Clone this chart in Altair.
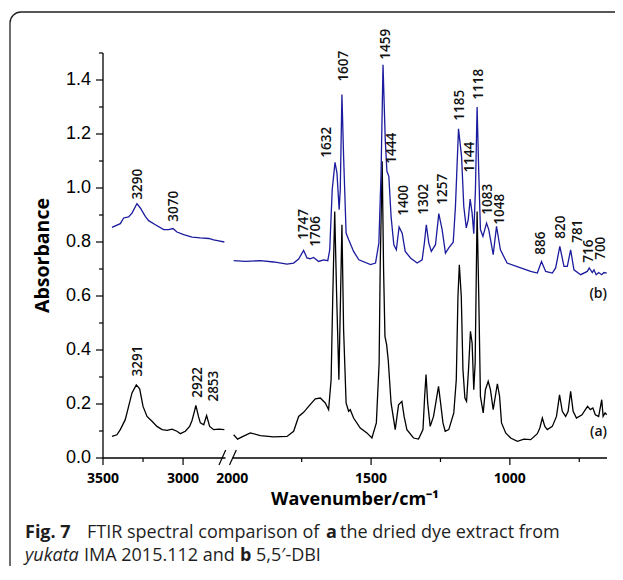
import altair as alt
import pandas as pd

# ---------------- data ----------------
# (b) 5,5'-DBI  (blue)
b_left_wn = [3444, 3392, 3371, 3340, 3319, 3288, 3267, 3236, 3215, 3173, 3121, 3090, 3063,
             3038, 2996, 2944, 2892, 2840, 2809, 2777, 2742]
b_left_abs = [0.854, 0.868, 0.889, 0.893, 0.907, 0.942, 0.926, 0.895, 0.879, 0.864, 0.846,
              0.846, 0.850, 0.837, 0.827, 0.818, 0.815, 0.813, 0.808, 0.804, 0.800]
b_right_wn = [1995, 1952, 1899, 1851, 1803, 1779, 1761, 1743, 1731, 1720, 1707, 1689, 1671,
              1656, 1649, 1640, 1630, 1623, 1615, 1611, 1605, 1599, 1590, 1581, 1563, 1544,
              1502, 1484, 1472, 1464, 1457, 1449, 1443, 1436, 1428, 1418, 1409, 1399, 1388,
              1377, 1358, 1334, 1316, 1308, 1301, 1292, 1283, 1268, 1256, 1244, 1232, 1220,
              1204, 1196, 1185, 1174, 1166, 1157, 1150, 1143, 1136, 1130, 1124, 1118, 1112,
              1106, 1097, 1084, 1076, 1060, 1048, 1034, 1010, 961, 925, 901, 886, 871, 847,
              835, 820, 805, 793, 781, 769, 745, 721, 714, 703, 697, 689, 680, 669, 661, 651]
b_right_abs = [0.731, 0.728, 0.731, 0.726, 0.718, 0.722, 0.737, 0.769, 0.741, 0.738, 0.743,
               0.728, 0.734, 0.731, 0.771, 0.994, 1.095, 1.056, 0.920, 0.994, 1.346, 1.117,
               0.833, 0.809, 0.765, 0.734, 0.716, 0.722, 0.796, 1.056, 1.456, 1.180, 1.062,
               1.043, 0.895, 0.790, 0.771, 0.856, 0.833, 0.765, 0.741, 0.722, 0.734, 0.796,
               0.864, 0.796, 0.765, 0.790, 0.905, 0.846, 0.759, 0.778, 0.799, 0.932, 1.219,
               1.117, 0.932, 0.852, 0.883, 0.959, 0.907, 0.831, 0.994, 1.300, 1.056, 0.846,
               0.821, 0.870, 0.846, 0.753, 0.858, 0.771, 0.722, 0.704, 0.691, 0.685, 0.728,
               0.691, 0.685, 0.704, 0.784, 0.710, 0.710, 0.771, 0.697, 0.679, 0.691, 0.704,
               0.687, 0.697, 0.679, 0.687, 0.679, 0.687, 0.685]

# (a) dried dye extract (black)
a_left_wn = [3444, 3413, 3392, 3361, 3340, 3319, 3292, 3271, 3250, 3225, 3194, 3163, 3131,
             3100, 3069, 3038, 3017, 2986, 2959, 2944, 2929, 2920, 2904, 2892, 2871, 2853,
             2834, 2809, 2777, 2742]
a_left_abs = [0.080, 0.086, 0.105, 0.142, 0.191, 0.241, 0.271, 0.256, 0.191, 0.154, 0.136,
              0.117, 0.105, 0.102, 0.107, 0.099, 0.090, 0.099, 0.117, 0.139, 0.173, 0.195,
              0.154, 0.130, 0.123, 0.157, 0.117, 0.105, 0.107, 0.105]
a_right_wn = [1995, 1981, 1965, 1935, 1899, 1851, 1803, 1779, 1761, 1743, 1725, 1701, 1683,
              1665, 1653, 1644, 1638, 1631, 1624, 1616, 1610, 1605, 1599, 1590, 1581, 1575,
              1563, 1539, 1515, 1497, 1481, 1471, 1467, 1460, 1455, 1450, 1444, 1438, 1428,
              1413, 1401, 1389, 1381, 1371, 1347, 1329, 1313, 1307, 1302, 1296, 1287, 1275,
              1263, 1257, 1251, 1241, 1233, 1220, 1202, 1193, 1187, 1182, 1175, 1169, 1162,
              1156, 1149, 1142, 1136, 1130, 1125, 1118, 1112, 1106, 1096, 1088, 1078, 1070,
              1060, 1045, 1037, 1030, 1015, 997, 973, 949, 925, 901, 892, 883, 874, 865, 847,
              832, 821, 811, 799, 790, 781, 772, 760, 740, 728, 720, 710, 701, 692, 680, 669,
              664, 657, 651]
a_right_abs = [0.086, 0.070, 0.078, 0.093, 0.083, 0.078, 0.080, 0.099, 0.154, 0.169, 0.191,
               0.219, 0.222, 0.204, 0.179, 0.290, 0.600, 0.913, 0.600, 0.290, 0.600, 0.864,
               0.475, 0.204, 0.173, 0.179, 0.148, 0.111, 0.093, 0.074, 0.130, 0.352, 0.720,
               1.099, 0.700, 0.450, 0.420, 0.360, 0.204, 0.105, 0.197, 0.210, 0.154, 0.105,
               0.074, 0.070, 0.105, 0.228, 0.309, 0.204, 0.117, 0.154, 0.228, 0.265, 0.216,
               0.130, 0.099, 0.105, 0.167, 0.290, 0.598, 0.716, 0.598, 0.327, 0.222, 0.210,
               0.327, 0.469, 0.426, 0.253, 0.353, 0.913, 0.598, 0.228, 0.167, 0.253, 0.284,
               0.253, 0.179, 0.275, 0.228, 0.130, 0.093, 0.074, 0.062, 0.070, 0.068, 0.090,
               0.111, 0.148, 0.117, 0.105, 0.117, 0.154, 0.234, 0.173, 0.154, 0.173, 0.247,
               0.173, 0.148, 0.160, 0.179, 0.191, 0.179, 0.185, 0.160, 0.154, 0.216, 0.154,
               0.167, 0.160]

# peak annotations: text, anchor wavenumber, anchor absorbance (bottom of rotated text)
peak_text = ["3290", "3070", "1747", "1706", "1632", "1607", "1459", "1444", "1400", "1302",
             "1257", "1185", "1144", "1118", "1083", "1048", "886", "820", "781", "716", "700",
             "3291", "2922", "2853"]
peak_wn = [3279, 3054, 1742, 1697, 1658, 1599, 1448, 1424, 1380, 1308, 1240, 1178, 1145, 1111,
           1080, 1034, 886, 817, 754, 716, 673, 3281, 2904, 2804]
peak_abs = [0.957, 0.875, 0.808, 0.782, 1.112, 1.394, 1.475, 1.090, 0.897, 0.901, 0.938, 1.249,
            1.057, 1.327, 0.901, 0.864, 0.753, 0.812, 0.797, 0.723, 0.734, 0.302, 0.223, 0.209]

series_text = ["(a)", "(b)"]
series_label_wn = [650, 650]
series_label_abs = [0.096, 0.608]

# broken x axis: left part 3500-2730, right part 2000-650
axis_start = [3500, 2000]
axis_end = [2735, 650]
x_label_vals = [3500, 3000, 2000, 1500, 1000]
x_major_ticks = [3500, 3000, 1500, 1000]
x_minor_ticks = [3250, 1750, 1250, 750]
y_major = [0.0, 0.2, 0.4, 0.6, 0.8, 1.0, 1.2, 1.4]
y_minor = [0.1, 0.3, 0.5, 0.7, 0.9, 1.1, 1.3, 1.5]
y_extent = [0.0, 1.5]

# ---------------- tables ----------------
rows = []
for name, seg, wns, vals in [("a", "aL", a_left_wn, a_left_abs), ("a", "aR", a_right_wn, a_right_abs),
                             ("b", "bL", b_left_wn, b_left_abs), ("b", "bR", b_right_wn, b_right_abs)]:
    for i, (w, v) in enumerate(zip(wns, vals)):
        rows.append({"series": name, "seg": seg, "wn": w, "abs": v, "i": i})
spec_df = pd.DataFrame(rows)
peak_df = pd.DataFrame({"label": peak_text, "wn": peak_wn, "abs": peak_abs})
ser_df = pd.DataFrame({"label": series_text, "wn": series_label_wn, "abs": series_label_abs})
axis_df = pd.DataFrame({"start": axis_start, "end": axis_end})
xlab_df = pd.DataFrame({"wn": x_label_vals})
xmaj_df = pd.DataFrame({"wn": x_major_ticks})
xmin_df = pd.DataFrame({"wn": x_minor_ticks})
ymaj_df = pd.DataFrame({"abs": y_major})
ymin_df = pd.DataFrame({"abs": y_minor})
yext_df = pd.DataFrame({"lo": [y_extent[0]], "hi": [y_extent[1]]})
one = pd.DataFrame({"k": [0]})

W, H = 504, 405
XS = alt.Scale(domain=[3500, 2730, 2000, 650], range=[0, 123.3, 129.3, W], nice=False, zero=False)
YS = alt.Scale(domain=[0, 1.5], nice=False, zero=False)


def X(field):
    return alt.X(field, scale=XS, axis=None)


def Y(field):
    return alt.Y(field, scale=YS, axis=None)


lines = alt.Chart(spec_df).mark_line(strokeWidth=1.3).encode(
    x=X("wn:Q"), y=Y("abs:Q"),
    color=alt.Color("series:N", scale=alt.Scale(domain=["a", "b"], range=["#000000", "#1b1b9e"]),
                    legend=None),
    detail="seg:N",
    order="i:Q",
)

peaks = alt.Chart(peak_df).mark_text(
    angle=270, align="left", baseline="middle", font="Open Sans", fontSize=13.5,
    fontWeight=600, color="#111111",
).encode(x=X("wn:Q"), y=Y("abs:Q"), text="label:N")

ser_labels = alt.Chart(ser_df).mark_text(
    align="right", baseline="middle", font="Open Sans", fontSize=14, fontWeight=600,
    color="#111111",
).encode(x=X("wn:Q"), y=Y("abs:Q"), text="label:N")

# ---- axes drawn with the shared scales ----
x_domain_line = alt.Chart(axis_df).mark_rule(color="black", strokeWidth=1.3).encode(
    x=X("start:Q"), x2="end:Q", y=alt.datum(0, scale=YS, axis=None))
x_ticks_major = alt.Chart(xmaj_df).mark_rule(color="black", strokeWidth=1.2).encode(
    x=X("wn:Q"), y=alt.value(H), y2=alt.value(H + 7))
x_ticks_minor = alt.Chart(xmin_df).mark_rule(color="black", strokeWidth=1.2).encode(
    x=X("wn:Q"), y=alt.value(H), y2=alt.value(H + 4))
x_labels = alt.Chart(xlab_df).mark_text(
    align="center", baseline="alphabetic", font="Open Sans", fontSize=14, fontWeight="bold",
    color="black",
).encode(x=X("wn:Q"), y=alt.value(H + 25), text=alt.Text("wn:Q", format="d"))
x_title = alt.Chart(one).mark_text(
    align="center", baseline="alphabetic", font="Open Sans", fontSize=18, fontWeight="bold",
    color="black",
).encode(x=alt.value(252), y=alt.value(H + 46.5), text=alt.value("Wavenumber/cm\u207b\u00b9"))

y_domain_line = alt.Chart(yext_df).mark_rule(color="black", strokeWidth=1.3).encode(
    y=Y("lo:Q"), y2="hi:Q", x=alt.value(0))
y_ticks_major = alt.Chart(ymaj_df).mark_rule(color="black", strokeWidth=1.2).encode(
    y=Y("abs:Q"), x=alt.value(-7), x2=alt.value(0))
y_ticks_minor = alt.Chart(ymin_df).mark_rule(color="black", strokeWidth=1.2).encode(
    y=Y("abs:Q"), x=alt.value(-4), x2=alt.value(0))
y_labels = alt.Chart(ymaj_df).mark_text(
    align="right", baseline="middle", font="Liberation Sans", fontSize=18, color="black",
).encode(y=Y("abs:Q"), x=alt.value(-12), text=alt.Text("abs:Q", format=".1f"))
y_title = alt.Chart(one).mark_text(
    angle=270, align="center", baseline="middle", font="Open Sans", fontSize=19.5,
    fontWeight="bold", color="black",
).encode(x=alt.value(-60), y=alt.value(H / 2), text=alt.value("Absorbance"))

slash1 = alt.Chart(one).mark_rule(color="black", strokeWidth=1.2).encode(
    x=alt.value(116), x2=alt.value(122.7), y=alt.value(412), y2=alt.value(397))
slash2 = alt.Chart(one).mark_rule(color="black", strokeWidth=1.2).encode(
    x=alt.value(126.5), x2=alt.value(133.3), y=alt.value(412), y2=alt.value(397))

border = alt.Chart(one).mark_rect(
    filled=False, cornerRadius=11, stroke="#222222", strokeWidth=1.3
).encode(x=alt.value(-93), x2=alt.value(640), y=alt.value(-41), y2=alt.value(530))

# caption, made of styled pieces
cap_pieces = [
    ("Fig. 7", -78, 485, "bold", "normal"),
    ("FTIR spectral comparison of", -16, 485, "normal", "normal"),
    ("a", 223, 485, "bold", "normal"),
    ("the dried dye extract from", 237, 485, "normal", "normal"),
    ("yukata", -78, 508, "normal", "italic"),
    ("IMA 2015.112 and", -19, 508, "normal", "normal"),
    ("b", 137, 508, "bold", "normal"),
    ("5,5\u2032-DBI", 153, 508, "normal", "normal"),
]
caption_layers = []
for txt, px, py, wt, st in cap_pieces:
    caption_layers.append(
        alt.Chart(one).mark_text(
            align="left", baseline="alphabetic", font="Open Sans", fontSize=18,
            fontWeight=wt, fontStyle=st, color="#1e1e1e",
        ).encode(x=alt.value(px), y=alt.value(py), text=alt.value(txt))
    )

chart = alt.layer(
    border, lines, x_domain_line, x_ticks_major, x_ticks_minor, x_labels, x_title,
    y_domain_line, y_ticks_major, y_ticks_minor, y_labels, y_title, slash1, slash2,
    peaks, ser_labels, *caption_layers,
).properties(
    width=W, height=H,
    autosize=alt.AutoSizeParams(type="none"),
    padding={"left": 95, "top": 45, "right": 8, "bottom": 108},
    background="white",
).configure_view(stroke=None)

chart.save("out.html", embed_options={"renderer": "svg", "actions": False})
